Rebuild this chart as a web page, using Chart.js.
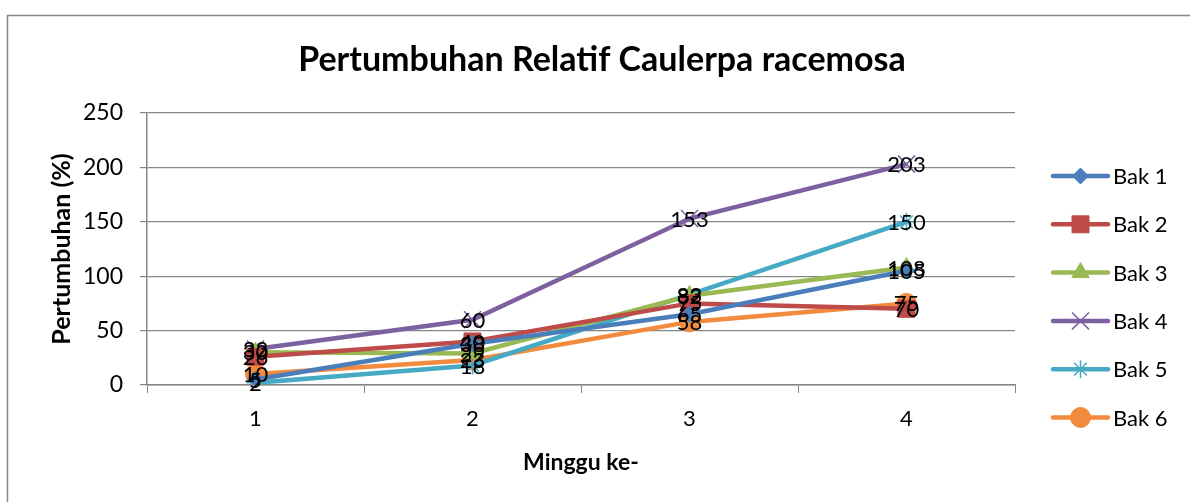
<!DOCTYPE html>
<html>
<head>
<meta charset="utf-8">
<title>Pertumbuhan Relatif Caulerpa racemosa</title>
<script src="https://cdn.jsdelivr.net/npm/chart.js@4/dist/chart.umd.min.js"></script>
<style>
  html, body { margin: 0; padding: 0; background: #fff; }
  #wrap { width: 1190px; height: 502px; }
</style>
</head>
<body>
<div id="wrap"><canvas id="chart" width="1190" height="502"></canvas></div>
<script>
// Data
const weeks = ['1', '2', '3', '4'];
const bak1 = [5, 38, 65, 105];
const bak2 = [26, 40, 75, 70];
const bak3 = [30, 29, 82, 108];
const bak4 = [33, 60, 153, 203];
const bak5 = [2, 18, 83, 150];
const bak6 = [10, 23, 58, 75];
const seriesNames = ['Bak 1', 'Bak 2', 'Bak 3', 'Bak 4', 'Bak 5', 'Bak 6'];
const yTicks = [0, 50, 100, 150, 200, 250];

const colors = ['#4a7ebb', '#be4b48', '#98b954', '#7d60a0', '#46aac5', '#f38b3e'];
const markers = ['rectRot', 'rect', 'triangle', 'crossRot', 'star', 'circle'];
const markerSize = [8, 12, 10, 12, 9, 10];
const FONT = 'Lato, Carlito, Calibri, sans-serif';
const GRID = '#868686';

const series = [bak1, bak2, bak3, bak4, bak5, bak6];

const datasets = series.map(function (values, i) {
  const thin = markers[i] === 'crossRot' || markers[i] === 'star';
  return {
    label: seriesNames[i],
    data: values,
    borderColor: colors[i],
    backgroundColor: colors[i],
    borderWidth: 4.5,
    tension: 0,
    pointStyle: markers[i],
    pointRadius: markerSize[i],
    pointBorderWidth: thin ? 1.5 : 1,
    pointBorderColor: colors[i],
    pointBackgroundColor: colors[i]
  };
});

// White background and the outer frame (only top and left edges show)
const framePlugin = {
  id: 'frame',
  beforeDraw(chart) {
    const ctx = chart.ctx;
    ctx.save();
    ctx.fillStyle = '#fff';
    ctx.fillRect(0, 0, chart.width, chart.height);
    ctx.strokeStyle = GRID;
    ctx.lineWidth = 1.5;
    ctx.beginPath();
    ctx.moveTo(7.5, chart.height);
    ctx.lineTo(7.5, 15.5);
    ctx.lineTo(chart.width, 15.5);
    ctx.stroke();
    ctx.restore();
  }
};

// Chart title, centred like the original
const titlePlugin = {
  id: 'bigTitle',
  afterDraw(chart) {
    const ctx = chart.ctx;
    ctx.save();
    ctx.font = 'bold 34px ' + FONT;
    ctx.fillStyle = '#000';
    ctx.textAlign = 'center';
    ctx.textBaseline = 'middle';
    ctx.fillText('Pertumbuhan Relatif Caulerpa racemosa', 602, 60);
    ctx.restore();
  }
};

// Value labels centred on each point
const valueLabels = {
  id: 'valueLabels',
  afterDatasetsDraw(chart) {
    const ctx = chart.ctx;
    ctx.save();
    ctx.font = '22px ' + FONT;
    ctx.fillStyle = '#000';
    ctx.textAlign = 'center';
    ctx.textBaseline = 'middle';
    chart.data.datasets.forEach(function (ds, i) {
      const meta = chart.getDatasetMeta(i);
      meta.data.forEach(function (pt, j) {
        ctx.fillText(String(ds.data[j]), pt.x, pt.y + 1);
      });
    });
    ctx.restore();
  }
};

// Legend on the right: line with marker, then name
const sideLegend = {
  id: 'sideLegend',
  afterDraw(chart) {
    const ctx = chart.ctx;
    const x0 = 1053, x1 = 1108, top = 176, step = 48.3;
    ctx.save();
    chart.data.datasets.forEach(function (ds, i) {
      const y = top + i * step;
      ctx.strokeStyle = ds.borderColor;
      ctx.lineWidth = 4.5;
      ctx.lineCap = 'round';
      ctx.beginPath();
      ctx.moveTo(x0, y);
      ctx.lineTo(x1, y);
      ctx.stroke();
      ctx.lineCap = 'butt';
      ctx.fillStyle = ds.backgroundColor;
      ctx.lineWidth = ds.pointBorderWidth;
      Chart.helpers.drawPoint(ctx, {
        pointStyle: ds.pointStyle,
        radius: ds.pointRadius,
        borderWidth: ds.pointBorderWidth,
        rotation: 0
      }, (x0 + x1) / 2, y);
      ctx.fillStyle = '#000';
      ctx.font = '22px ' + FONT;
      ctx.textAlign = 'left';
      ctx.textBaseline = 'middle';
      ctx.fillText(ds.label, 1113, y + 1);
    });
    ctx.restore();
  }
};

const ctx = document.getElementById('chart');
new Chart(ctx, {
  type: 'line',
  data: { labels: weeks, datasets: datasets },
  options: {
    responsive: false,
    animation: false,
    devicePixelRatio: 1,
    layout: { padding: { left: 10, right: 175, top: 113, bottom: 0 } },
    plugins: {
      legend: { display: false },
      title: { display: false },
      tooltip: { enabled: false }
    },
    scales: {
      x: {
        type: 'category',
        offset: true,
        grid: {
          offset: true,
          drawOnChartArea: false,
          drawTicks: true,
          tickLength: 8,
          color: GRID,
          lineWidth: 1
        },
        border: { display: true, color: GRID, width: 1.5 },
        ticks: { color: '#000', font: { family: FONT, size: 22 }, padding: 13 },
        title: {
          display: true,
          text: 'Minggu ke-',
          color: '#000',
          font: { family: FONT, size: 23, weight: 'bold' },
          padding: { top: 0, bottom: 26 }
        },
        afterFit(scale) { scale.height = 117; }
      },
      y: {
        min: 0,
        max: 250,
        afterBuildTicks(scale) { scale.ticks = yTicks.map(function (v) { return { value: v }; }); },
        grid: { color: GRID, lineWidth: 1.2, tickLength: 7, drawTicks: true },
        border: { display: true, color: GRID, width: 1.5 },
        ticks: { color: '#000', font: { family: FONT, size: 23 }, padding: 17 },
        title: {
          display: true,
          text: 'Pertumbuhan (%)',
          color: '#000',
          font: { family: FONT, size: 25, weight: 'bold' },
          padding: { top: 37, bottom: 0 }
        },
        afterFit(scale) { scale.width = 137; }
      }
    }
  },
  plugins: [framePlugin, valueLabels, titlePlugin, sideLegend]
});
</script>
</body>
</html>
